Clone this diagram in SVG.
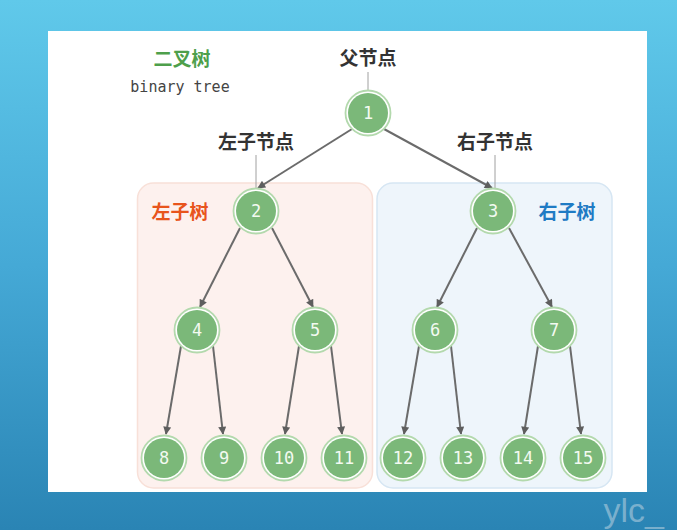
<svg xmlns="http://www.w3.org/2000/svg" width="677" height="530" viewBox="0 0 677 530">
<defs>
<linearGradient id="bg" x1="0" y1="0" x2="0" y2="1">
<stop offset="0" stop-color="#60c9ea"/>
<stop offset="0.5" stop-color="#45a9d6"/>
<stop offset="1" stop-color="#2a84b4"/>
</linearGradient>
<marker id="arr" viewBox="0 0 10 10" refX="9" refY="5" markerWidth="9" markerHeight="8" markerUnits="userSpaceOnUse" orient="auto">
<path d="M0,0 L10,5 L0,10 z" fill="#5e5e5e"/>
</marker>
<style>
.edge{stroke:#6b6b6b;stroke-width:2;fill:none;marker-end:url(#arr)}
.tick{stroke:#a0a0a0;stroke-width:1;fill:none}
.ring{fill:#ffffff;stroke:#b3d9ad;stroke-width:1.8}
.core{fill:#7bb879}
.num{font-family:"DejaVu Sans Mono","Liberation Mono",monospace;font-size:17px;fill:#f3faf1;text-anchor:middle;dominant-baseline:central}
.lbl{font-family:"Noto Sans CJK SC",sans-serif;font-weight:bold;font-size:19px;fill:#333333;text-anchor:middle}
</style>
</defs>
<rect x="0" y="0" width="677" height="530" fill="url(#bg)"/>
<rect x="48" y="31" width="599" height="461" fill="#ffffff"/>
<text x="664" y="522" font-family="Liberation Sans,sans-serif" font-size="34" fill="#9ec3d8" fill-opacity="0.7" text-anchor="end">ylc_</text>

<g id="subtrees">
<rect x="137.5" y="183" width="235" height="305" rx="16" fill="#fdf1ee" stroke="#f8e0d8" stroke-width="1.5"/>
<rect x="377" y="183" width="235" height="305" rx="16" fill="#eef5fb" stroke="#d6e6f3" stroke-width="1.5"/>
</g>

<g id="labels">
<text x="182" y="66" font-family="Noto Sans CJK SC,sans-serif" font-weight="bold" font-size="19" fill="#4e9f4b" text-anchor="middle">二叉树</text>
<text x="180" y="92" font-family="DejaVu Sans Mono,monospace" font-size="15" fill="#444" text-anchor="middle">binary tree</text>
<text x="368" y="65" class="lbl">父节点</text>
<text x="256" y="149" class="lbl">左子节点</text>
<text x="495" y="149" class="lbl">右子节点</text>
<text x="180" y="219" font-family="Noto Sans CJK SC,sans-serif" font-weight="bold" font-size="19" fill="#e8541c" text-anchor="middle">左子树</text>
<text x="567" y="219" font-family="Noto Sans CJK SC,sans-serif" font-weight="bold" font-size="19" fill="#1f7bc4" text-anchor="middle">右子树</text>
<path class="tick" d="M368,72 V91 M256,155 V189 M495,155 V189"/>
</g>

<g id="connectors">
<line class="edge" x1="352" y1="129" x2="258" y2="188"/>
<line class="edge" x1="384" y1="129" x2="492" y2="188"/>
<line class="edge" x1="240" y1="228" x2="200" y2="307"/>
<line class="edge" x1="272" y1="228" x2="313" y2="307"/>
<line class="edge" x1="477" y1="228" x2="437" y2="307"/>
<line class="edge" x1="509" y1="228" x2="552" y2="307"/>
<line class="edge" x1="181" y1="346" x2="166" y2="434"/>
<line class="edge" x1="213" y1="346" x2="223" y2="434"/>
<line class="edge" x1="299" y1="346" x2="285" y2="434"/>
<line class="edge" x1="331" y1="346" x2="342" y2="434"/>
<line class="edge" x1="419" y1="346" x2="404" y2="434"/>
<line class="edge" x1="451" y1="346" x2="461" y2="434"/>
<line class="edge" x1="538" y1="346" x2="524" y2="434"/>
<line class="edge" x1="570" y1="346" x2="581" y2="434"/>
</g>

<g id="n1"><circle class="ring" cx="368" cy="113" r="22.5"/><circle class="core" cx="368" cy="113" r="20"/><text class="num" x="368" y="113">1</text></g>
<g id="n2"><circle class="ring" cx="256" cy="211" r="22.5"/><circle class="core" cx="256" cy="211" r="20"/><text class="num" x="256" y="211">2</text></g>
<g id="n3"><circle class="ring" cx="493" cy="211" r="22.5"/><circle class="core" cx="493" cy="211" r="20"/><text class="num" x="493" y="211">3</text></g>
<g id="n4"><circle class="ring" cx="197" cy="330" r="22.5"/><circle class="core" cx="197" cy="330" r="20"/><text class="num" x="197" y="330">4</text></g>
<g id="n5"><circle class="ring" cx="315" cy="330" r="22.5"/><circle class="core" cx="315" cy="330" r="20"/><text class="num" x="315" y="330">5</text></g>
<g id="n6"><circle class="ring" cx="435" cy="330" r="22.5"/><circle class="core" cx="435" cy="330" r="20"/><text class="num" x="435" y="330">6</text></g>
<g id="n7"><circle class="ring" cx="554" cy="330" r="22.5"/><circle class="core" cx="554" cy="330" r="20"/><text class="num" x="554" y="330">7</text></g>
<g id="n8"><circle class="ring" cx="164" cy="458" r="22.5"/><circle class="core" cx="164" cy="458" r="20"/><text class="num" x="164" y="458">8</text></g>
<g id="n9"><circle class="ring" cx="224" cy="458" r="22.5"/><circle class="core" cx="224" cy="458" r="20"/><text class="num" x="224" y="458">9</text></g>
<g id="n10"><circle class="ring" cx="284" cy="458" r="22.5"/><circle class="core" cx="284" cy="458" r="20"/><text class="num" x="284" y="458">10</text></g>
<g id="n11"><circle class="ring" cx="344" cy="458" r="22.5"/><circle class="core" cx="344" cy="458" r="20"/><text class="num" x="344" y="458">11</text></g>
<g id="n12"><circle class="ring" cx="403" cy="458" r="22.5"/><circle class="core" cx="403" cy="458" r="20"/><text class="num" x="403" y="458">12</text></g>
<g id="n13"><circle class="ring" cx="463" cy="458" r="22.5"/><circle class="core" cx="463" cy="458" r="20"/><text class="num" x="463" y="458">13</text></g>
<g id="n14"><circle class="ring" cx="523" cy="458" r="22.5"/><circle class="core" cx="523" cy="458" r="20"/><text class="num" x="523" y="458">14</text></g>
<g id="n15"><circle class="ring" cx="583" cy="458" r="22.5"/><circle class="core" cx="583" cy="458" r="20"/><text class="num" x="583" y="458">15</text></g>
</svg>
